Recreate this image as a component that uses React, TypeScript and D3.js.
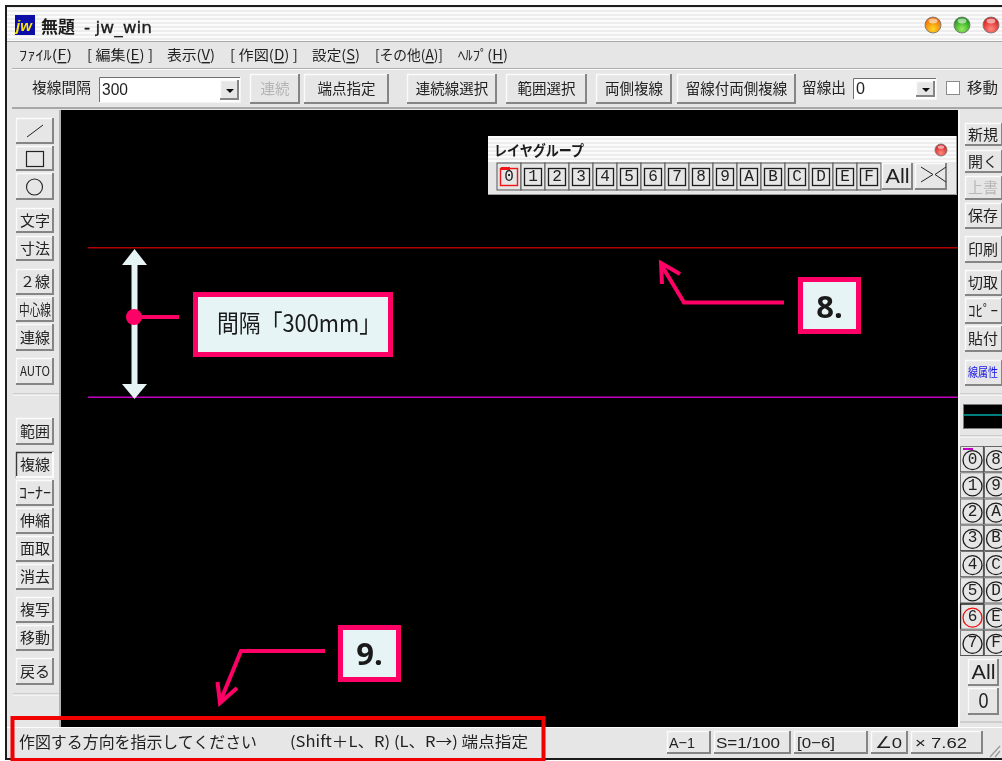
import React from "react";
import * as d3 from "d3";

const CJK = "'Noto Sans CJK JP','Noto Sans',sans-serif";
const INK = "#222222";
const PINK = "#ff0066";
const PALE = "#e6f4f6";
const PANEL = "#e6e6e6";

// --- labels ---
const menuLabels = [
  ["ﾌｧｲﾙ(", "F", ")"], ["[ 編集(", "E", ") ]"], ["表示(", "V", ")"], ["[ 作図(", "D", ") ]"],
  ["設定(", "S", ")"], ["[その他(", "A", ")]"], ["ﾍﾙﾌﾟ(", "H", ")"],
];
const menuStart = [19, 87, 167, 230, 312, 375, 458];
const menuWidth = [53, 66, 48, 68, 48, 68, 50];

const toolLabels = ["連続", "端点指定", "連続線選択", "範囲選択", "両側複線", "留線付両側複線"];
const toolStart = [250, 304, 407, 506, 596, 677];
const toolEnd = [300, 389, 497, 587, 672, 796];

const leftLabels = ["", "", "", "文字", "寸法", "２線", "中心線", "連線", "AUTO", "範囲", "複線", "ｺｰﾅｰ", "伸縮", "面取", "消去", "複写", "移動", "戻る"];
const leftTop = [118, 146, 173, 208, 236, 269, 297, 324, 358, 418, 452, 480, 508, 536, 564, 597, 625, 658];
const leftBottom = [144, 171, 200, 233, 261, 295, 322, 351, 385, 445, 478, 506, 534, 562, 590, 623, 651, 685];
const leftWidth = [0, 0, 0, 30, 30, 30, 32, 30, 30, 30, 30, 32, 30, 30, 30, 30, 30, 30];

const rightLabels = ["新規", "開く", "上書", "保存", "印刷", "切取", "ｺﾋﾟｰ", "貼付", "線属性"];
const rightTop = [123, 150, 176, 203, 236, 270, 298, 326, 360];
const rightBottom = [146, 173, 200, 229, 263, 296, 324, 352, 386];

const layerGroupLabels = ["0", "1", "2", "3", "4", "5", "6", "7", "8", "9", "A", "B", "C", "D", "E", "F"];
const layerLeft = ["0", "1", "2", "3", "4", "5", "6", "7"];
const layerRight = ["8", "9", "A", "B", "C", "D", "E", "F"];

const statusLabels = ["A−1", "S=1/100", "[0−6]", "∠0", "× 7.62"];
const statusStart = [667, 714, 794, 871, 911];
const statusEnd = [711, 791, 868, 908, 983];
const statusTextStart = [669, 716, 797, 875, 915];
const statusTextWidth = [26, 64, 38, 27, 52];
const promptLeft = "作図する方向を指示してください";
const promptRight = "(Shift＋L、R) (L、R→) 端点指定";

const layerGroupX = d3.scaleLinear().domain([0, 16]).range([497, 881]);
const layerRowY = d3.scaleLinear().domain([0, 8]).range([446, 656]);
const pathOf = d3.line<[number, number]>().x((d) => d[0]).y((d) => d[1]);

const T = ({ x, y, s = 14, fill = INK, w, anchor = "start", weight = 400, children, family = CJK }: any) => (
  <text x={x} y={y - 1.5} fontSize={s} fill={fill} fontFamily={family} textAnchor={anchor} dominantBaseline="central" fontWeight={weight}
    textLength={w} lengthAdjust={w ? "spacingAndGlyphs" : undefined}>{children}</text>
);

const Bevel = ({ x0, y0, x1, y1, pressed = false, fill = PANEL, hi = "#fbfbfb", lo = "#858585" }: any) => (
  <g>
    <rect x={x0} y={y0} width={x1 - x0} height={y1 - y0} fill={fill} />
    <path d={`M${x0 + .5} ${y1}V${y0 + .5}H${x1}`} fill="none" stroke={pressed ? "#3a3a3a" : hi} strokeWidth={1.4} />
    <path d={`M${x0} ${y1 - 1}H${x1 - 1}V${y0}`} fill="none" stroke={pressed ? "#fbfbfb" : lo} strokeWidth={2} />
  </g>
);

const Btn = ({ x0, y0, x1, y1, label, w, fill = INK, s = 14, pressed, cx, family }: any) => (
  <g>
    <Bevel x0={x0} y0={y0} x1={x1} y1={y1} pressed={pressed} />
    {label ? <T x={cx ?? (x0 + x1) / 2} y={(y0 + y1) / 2} s={s} fill={fill} anchor="middle" w={w} family={family}>{label}</T> : null}
  </g>
);

const Combo = ({ x0, y0, x1, y1, label, w }: any) => (
  <g>
    <rect x={x0} y={y0} width={x1 - x0} height={y1 - y0} fill="#fff" />
    <path d={`M${x0 + .5} ${y1}V${y0 + .5}H${x1}`} fill="none" stroke="#707070" />
    <path d={`M${x0} ${y1 - .5}H${x1 - .5}V${y0}`} fill="none" stroke="#f4f4f4" />
    <T x={x0 + 3} y={(y0 + y1) / 2 + 1} s={17} w={w} family="'Liberation Sans',sans-serif">{label}</T>
    <Bevel x0={x1 - 21} y0={y0 + 3} x1={x1 - 2} y1={y1 - 3} />
    <path d={`M${x1 - 15} ${(y0 + y1) / 2 - 1}h8l-4 4z`} fill="#111" />
  </g>
);

const Light = ({ cx, cy, r, id, a, b }: any) => (
  <g>
    <defs>
      <radialGradient id={id} cx="50%" cy="75%" r="70%">
        <stop offset="0%" stopColor={a} />
        <stop offset="100%" stopColor={b} />
      </radialGradient>
    </defs>
    <circle cx={cx} cy={cy} r={r} fill={`url(#${id})`} stroke="#777" strokeWidth={0.9} />
    <ellipse cx={cx} cy={cy - r * 0.5} rx={r * 0.55} ry={r * 0.3} fill="#fff" opacity={0.55} />
  </g>
);

const Callout = ({ x0, y0, x1, y1, children }: any) => (
  <g>
    <rect x={x0 + 2.5} y={y0 + 2.5} width={x1 - x0 - 5} height={y1 - y0 - 5} fill={PALE} stroke={PINK} strokeWidth={5} />
    {children}
  </g>
);

const Pink = ({ pts, w = 4 }: any) => (
  <path d={pathOf(pts) as string} fill="none" stroke={PINK} strokeWidth={w} strokeLinejoin="miter" />
);

export default function App() {
  return (
    <svg width={1002} height={761} viewBox="0 0 1002 761" style={{ position: "absolute", left: 0, top: 0, display: "block" }}>
      <defs>
        <pattern id="stripe" width={4} height={4} patternUnits="userSpaceOnUse">
          <rect width={4} height={4} fill="#fbfbfb" />
          <rect y={2} width={4} height={2} fill="#ededed" />
        </pattern>
        <filter id="soft" x="0" y="0" width="100%" height="100%">
          <feGaussianBlur stdDeviation="0.35" />
        </filter>
      </defs>
      <rect width={1002} height={761} fill="#fff" />
      <g filter="url(#soft)">
        {/* window */}
        <rect x={5} y={5} width={1000} height={755} fill="#1c1c1c" />
        <rect x={7} y={7} width={996} height={751} fill={PANEL} />
        <rect x={7} y={7} width={996} height={34} fill="url(#stripe)" />
        <line x1={7} x2={1002} y1={41.5} y2={41.5} stroke="#a8a8a8" />
        <line x1={12} x2={1002} y1={68.5} y2={68.5} stroke="#b0b0b0" />
        <line x1={12} x2={1002} y1={69.5} y2={69.5} stroke="#fafafa" />
        <line x1={12} x2={1002} y1={108} y2={108} stroke="#a8a8a8" strokeWidth={2} />

        {/* title */}
        <rect x={15} y={15} width={20} height={20} fill="#0a0aa8" />
        <text x={16} y={31} fontSize={15} fontWeight={700} fontStyle="italic" fill="#ffe800" fontFamily="'Liberation Sans'">jw</text>
        <text x={41} y={33} fontSize={17} fontWeight={700} fill="#1c1c1c" fontFamily={CJK}>無題</text>
        <text x={84} y={33} fontSize={16} fill="#1c1c1c" fontFamily="'DejaVu Sans',sans-serif" stroke="#1c1c1c" strokeWidth={0.3} textLength={68} lengthAdjust="spacingAndGlyphs">- jw_win</text>
        <Light cx={933} cy={25} r={8} id="l1" a="#ffd820" b="#ee6608" />
        <Light cx={962} cy={25} r={8} id="l2" a="#98ec60" b="#129412" />
        <Light cx={991} cy={25} r={8} id="l3" a="#ff8a80" b="#d41818" />

        {/* menu */}
        {menuLabels.map((m, i) => (
          <text key={i} x={menuStart[i]} y={54} fontSize={14} fill={INK} fontFamily={CJK} dominantBaseline="central" textLength={menuWidth[i]} lengthAdjust="spacingAndGlyphs">
            {m[0]}<tspan textDecoration="underline">{m[1]}</tspan>{m[2]}
          </text>
        ))}

        {/* toolbar */}
        <T x={32} y={88} s={14.5} w={59}>複線間隔</T>
        <Combo x0={99} y0={77} x1={241} y1={103} label="300" w={26} />
        {toolLabels.map((t, i) => (
          <Btn key={t} x0={toolStart[i]} y0={74} x1={toolEnd[i]} y1={104} label={t} s={14.5} fill={i === 0 ? "#b4b4b4" : INK} />
        ))}
        <T x={802} y={88} s={14.5} w={44}>留線出</T>
        <Combo x0={853} y0={78} x1={937} y1={100} label="0" w={9} />
        <rect x={946.5} y={81.5} width={13} height={13} fill="#fff" stroke="#8c8c8c" />
        <T x={967} y={88} s={14.5} w={31}>移動</T>

        {/* side panels */}
        <line x1={13} x2={59} y1={394} y2={394} stroke="#b4b4b4" />
        <line x1={13} x2={59} y1={395} y2={395} stroke="#fff" />
        <line x1={13} x2={59} y1={694} y2={694} stroke="#b4b4b4" />
        <line x1={13} x2={59} y1={695} y2={695} stroke="#fff" />
        <line x1={60} x2={60} y1={110} y2={727} stroke="#a0a0a0" strokeWidth={1.5} />
        {leftLabels.map((t, i) => (
          <Btn key={i} x0={16} y0={leftTop[i]} x1={54} y1={leftBottom[i]} label={t} s={i === 8 ? 13 : 14.5} w={leftWidth[i] || undefined} pressed={i === 10} />
        ))}
        <line x1={27} y1={137} x2={43} y2={125} stroke={INK} strokeWidth={1} />
        <rect x={26.5} y={151.5} width={17} height={15} fill="none" stroke={INK} strokeWidth={1.2} />
        <circle cx={34.5} cy={187} r={8} fill="none" stroke={INK} strokeWidth={1.1} />

        {rightLabels.map((t, i) => (
          <Btn key={i} x0={965} y0={rightTop[i]} x1={1003} y1={rightBottom[i]} label={t} s={i === 8 ? 12 : 14.5} w={30} cx={983}
            fill={i === 2 ? "#b8b8b8" : i === 8 ? "#1414e6" : INK} />
        ))}
        <line x1={960} x2={1002} y1={394} y2={394} stroke="#b4b4b4" />
        <line x1={960} x2={1002} y1={395} y2={395} stroke="#fff" />
        <rect x={963.5} y={404.5} width={40} height={24} fill="#000" stroke="#7a7a7a" />
        <line x1={964} x2={1003} y1={415} y2={415} stroke="#00a8a8" strokeWidth={1.6} />
        <line x1={960} x2={1002} y1={436} y2={436} stroke="#b4b4b4" />
        <line x1={960} x2={1002} y1={437} y2={437} stroke="#fff" />

        {/* layer buttons */}
        {layerLeft.map((t, i) => {
          const y0 = layerRowY(i), y1 = layerRowY(i + 1), cy = (y0 + y1) / 2 + 1;
          const on = i === 6;
          return (
            <g key={t}>
              <rect x={960} y={y0} width={24} height={y1 - y0} fill={PANEL} />
              <path d={`M960.5 ${y1}V${y0 + .5}H984`} fill="none" stroke={on ? "#222" : "#777"} strokeWidth={on ? 1.4 : 1} />
              <path d={`M960 ${y1 - .5}H983.5V${y0}`} fill="none" stroke="#555" strokeWidth={1.2} />
              <circle cx={972.5} cy={cy} r={9.5} fill="none" stroke={on ? "#f01010" : "#1c1c1c"} strokeWidth={1.3} />
              <T x={972.5} y={cy + 1} s={16} anchor="middle" family="'Liberation Mono',monospace">{t}</T>
              <rect x={984} y={y0} width={24} height={y1 - y0} fill={PANEL} />
              <path d={`M984.5 ${y1}V${y0 + .5}H1002M984 ${y1 - .5}H1002`} fill="none" stroke="#666" strokeWidth={1} />
              <circle cx={996} cy={cy} r={9.5} fill="none" stroke="#1c1c1c" strokeWidth={1.3} />
              <T x={996} y={cy + 1} s={16} anchor="middle" family="'Liberation Mono',monospace">{layerRight[i]}</T>
            </g>
          );
        })}
        <rect x={963} y={448} width={10} height={2} fill="#c000c0" />
        <Btn x0={968} y0={659} x1={999} y1={686} label="All" s={21} w={24} family="'Liberation Sans',sans-serif" />
        <Btn x0={968} y0={688} x1={999} y1={715} label="0" s={22} w={10} family="'Liberation Sans',sans-serif" />
        <line x1={960} x2={1002} y1={722} y2={722} stroke="#b4b4b4" />

        {/* canvas */}
        <rect x={61} y={110} width={897} height={617} fill="#000" />
        <line x1={959} x2={959} y1={110} y2={727} stroke="#fdfdfd" strokeWidth={1.5} />

        {/* layer group palette */}
        <rect x={488} y={136} width={469} height={59} fill={PANEL} />
        <rect x={488} y={136} width={469} height={26} fill="url(#stripe)" />
        <path d="M956.5 136V194.5H488" fill="none" stroke="#999" />
        <text x={494} y={156} fontSize={14.5} fontWeight={700} fill="#1c1c1c" fontFamily={CJK} textLength={90} lengthAdjust="spacingAndGlyphs">レイヤグループ</text>
        <Light cx={941} cy={150} r={6} id="l4" a="#ff8a80" b="#d41818" />
        {layerGroupLabels.map((t, i) => {
          const x0 = layerGroupX(i), x1 = layerGroupX(i + 1);
          return (
            <g key={t}>
              <rect x={x0} y={163} width={x1 - x0} height={27} fill={PANEL} stroke="#555" strokeWidth={1} />
              <rect x={x0 + 3.5} y={168.5} width={x1 - x0 - 7} height={17} fill="none" stroke={i === 0 ? "#f01414" : "#1c1c1c"} strokeWidth={i === 0 ? 1.4 : 1.3} />
              <T x={(x0 + x1) / 2} y={178.5} s={16} anchor="middle" family="'Liberation Mono',monospace">{t}</T>
            </g>
          );
        })}
        <rect x={501} y={167} width={9} height={3} fill="#f01414" />
        <Btn x0={882} y0={163} x1={913} y1={190} label="All" s={21} w={24} family="'Liberation Sans',sans-serif" />
        <Btn x0={915} y0={163} x1={947} y1={190} />
        <path d="M921 167l12 7.5-12 7.5M946 167l-11 7.5 11 7.5" fill="none" stroke={INK} strokeWidth={1} />

        {/* status bar */}
        <rect x={7} y={727} width={996} height={31} fill={PANEL} />
        <line x1={7} x2={1002} y1={727.5} y2={727.5} stroke="#fdfdfd" />
        <T x={19} y={742} s={15.5} w={238}>{promptLeft}</T>
        <T x={290} y={742} s={15} w={238}>{promptRight}</T>
        {statusLabels.map((t, i) => (
          <g key={t}>
            <Bevel x0={statusStart[i]} y0={731} x1={statusEnd[i]} y1={754} />
            <T x={statusTextStart[i]} y={744} s={15.5} w={statusTextWidth[i]} family="'Liberation Sans',sans-serif">{t}</T>
          </g>
        ))}
        <path d="M990 757l10-11M995 757l5-6" stroke="#9a9a9a" strokeWidth={1.3} />
      </g>

      {/* drawn lines */}
      <rect x={88} y={247} width={870} height={1.5} fill="#b00000" />
      <rect x={88} y={396.5} width={870} height={1.5} fill="#c400c4" />

      {/* annotations */}
      <rect x={131.5} y={262} width={6} height={124} fill={PALE} />
      <path d="M134.5 249L147 265H122Z" fill={PALE} />
      <path d="M134.5 399L147 384H122Z" fill={PALE} />
      <Pink pts={[[134, 317], [179, 317]]} />
      <circle cx={134} cy={317} r={8} fill={PINK} />
      <Callout x0={193} y0={292} x1={393} y1={357}>
        <text x={217} y={321.5} fontSize={24} fill="#1a1a1a" fontFamily={CJK} dominantBaseline="central" textLength={164} lengthAdjust="spacingAndGlyphs">間隔「300mm」</text>
      </Callout>

      <Pink pts={[[784, 302.5], [684, 302.5], [662, 266]]} />
      <Pink pts={[[662, 284], [661, 263], [680, 274]]} />
      <Callout x0={798} y0={277} x1={861} y1={334}>
        <text x={829.5} y={306} fontSize={31} fontWeight={700} fill="#1a1a1a" fontFamily="'Open Sans',sans-serif" textAnchor="middle" dominantBaseline="central">8.</text>
      </Callout>

      <Pink pts={[[325, 651], [241, 651], [220, 702]]} />
      <Pink pts={[[217.5, 682], [220, 703], [237, 688]]} />
      <Callout x0={338} y0={625} x1={401} y1={682}>
        <text x={369.5} y={653} fontSize={31} fontWeight={700} fill="#1a1a1a" fontFamily="'Open Sans',sans-serif" textAnchor="middle" dominantBaseline="central">9.</text>
      </Callout>

      <rect x={12.5} y={718} width={531} height={42} fill="none" stroke="#f00000" strokeWidth={4} />
    </svg>
  );
}
